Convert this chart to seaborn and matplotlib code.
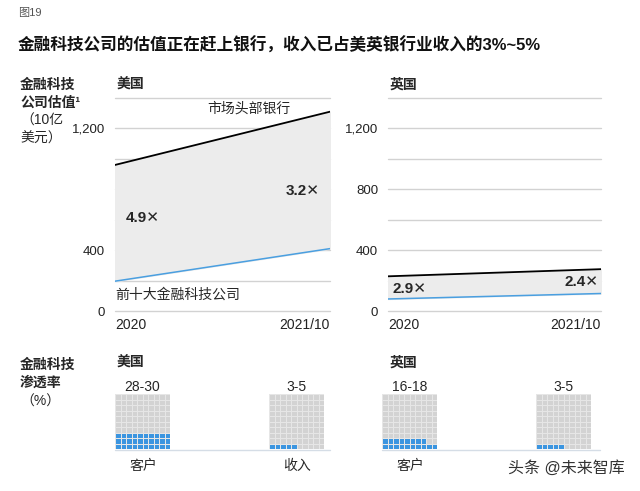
import numpy as np
import pandas as pd
import seaborn as sns
import matplotlib.pyplot as plt
from matplotlib.colors import ListedColormap
from matplotlib.lines import Line2D

sns.set_theme(style="white")
plt.rcParams['font.family'] = ['Liberation Sans', 'Noto Sans CJK SC', 'DejaVu Sans']

# valuation data (billion USD)
periods = ["2020", "2021/10"]
us_banks = [960, 1310]
us_fintech = [196, 410]
uk_banks = [228, 275]
uk_fintech = [79, 115]
us_ratio = ["4.9✕", "3.2✕"]
uk_ratio = ["2.9✕", "2.4✕"]
us_yticks = [0, 400, 1200]
uk_yticks = [0, 400, 800, 1200]
grid_vals = list(range(0, 1401, 200))

# penetration data (%) - cells of 100
waffle_labels = ["28-30", "3-5", "16-18", "3-5"]
waffle_cells = [30, 5, 18, 5]
waffle_names = ["客户", "收入", "客户", None]

W, H = 640, 491
fig = plt.figure(figsize=(W / 100, H / 100), dpi=100)


def px_axes(x, y_top, w, h):
    return fig.add_axes([x / W, 1 - (y_top + h) / H, w / W, h / H])


def ftext(x, y, s, **kw):
    fig.text(x / W, 1 - y / H, s, va="center", **kw)


GRID = "#d2d2d2"
FILL = "#ececec"
BLUE = "#4a9fe0"

ftext(18, 13, "图19", fontsize=8, color="#555555")
ftext(18, 45, "金融科技公司的估值正在赶上银行，收入已占美英银行业收入的3%~5%",
      fontsize=12, fontweight="bold", color="#111111")

ftext(20, 85, "金融科技", fontsize=10, fontweight="bold")
ftext(20, 103, "公司估值¹", fontsize=10, fontweight="bold")
ftext(20, 121, "（10亿", fontsize=10)
ftext(20, 139, "美元）", fontsize=10)


def value_panel(x, w, banks, fintech, ratios, yticks, title, ratio_pos):
    ax = px_axes(x, 98, w, 213)
    df = pd.DataFrame({"x": [0, 1], "banks": banks, "fintech": fintech})
    for g in grid_vals:
        ax.axhline(g, color=GRID, lw=1, zorder=0, clip_on=False)
    ax.fill_between(df["x"], df["fintech"], df["banks"], color=FILL, zorder=1)
    sns.lineplot(data=df, x="x", y="banks", ax=ax, color="black", lw=1.3, zorder=3)
    sns.lineplot(data=df, x="x", y="fintech", ax=ax, color=BLUE, lw=1.1, zorder=3)
    ax.set_xlim(0, 1)
    ax.set_ylim(0, 1400)
    ax.set_yticks(yticks, labels=[f"{v:,}" for v in yticks])
    ax.set_xticks([0, 1], labels=periods)
    for lab, ha in zip(ax.get_xticklabels(), ["left", "right"]):
        lab.set_ha(ha)
    ax.tick_params(axis="y", length=0, pad=7, labelsize=9.5, labelcolor="#222222")
    ax.tick_params(axis="x", length=0, pad=5, labelsize=10, labelcolor="#222222")
    ax.set_xlabel("")
    ax.set_ylabel("")
    sns.despine(ax=ax, left=True, bottom=True)
    for (px, py, ha), r in zip(ratio_pos, ratios):
        ax.text(px, py, r, fontsize=11, fontweight="bold", ha=ha, va="center", zorder=4,
                family=["Liberation Sans", "DejaVu Sans"])
    ftext(x + 2, 85, title, fontsize=10, fontweight="bold")
    return ax


ax_us = value_panel(115, 215, us_banks, us_fintech, us_ratio, us_yticks, "美国",
                    [(0.05, 610, "left"), (0.95, 790, "right")])
ax_us.text(0.43, 1330, "市场头部银行", fontsize=10, ha="left", va="center")
ax_us.text(0.0, 105, "前十大金融科技公司", fontsize=10, ha="left", va="center")

ax_uk = value_panel(388, 213, uk_banks, uk_fintech, uk_ratio, uk_yticks, "英国",
                    [(0.02, 145, "left"), (0.99, 192, "right")])

# penetration waffles
ftext(20, 365, "金融科技", fontsize=10, fontweight="bold")
ftext(20, 383, "渗透率", fontsize=10, fontweight="bold")
ftext(20, 402, "（%）", fontsize=10)
ftext(117, 363, "美国", fontsize=10, fontweight="bold")
ftext(390, 363, "英国", fontsize=10, fontweight="bold")

waffle_x = [115, 269, 382, 536]
cmap = ListedColormap(["#d3d3d3", "#3b95e0"])
for xw, n, lab, name in zip(waffle_x, waffle_cells, waffle_labels, waffle_names):
    ax = px_axes(xw, 394, 55, 55)
    k = np.arange(100)
    grid = (k < n).astype(int)
    mat = np.zeros((10, 10), dtype=int)
    mat[9 - k // 10, k % 10] = grid
    sns.heatmap(mat, ax=ax, cmap=cmap, vmin=0, vmax=1, cbar=False,
                linewidths=0.5, linecolor="#e6e6e6", square=False)
    ax.set_xticks([])
    ax.set_yticks([])
    ftext(xw + 27.5, 387, lab, fontsize=10, ha="center")
    if name:
        ftext(xw + 28, 466, name, fontsize=10, ha="center")

for x0, x1 in [(115, 330), (382, 600)]:
    fig.add_artist(Line2D([x0 / W, x1 / W], [1 - 449.5 / H] * 2, color="#d5dde6", lw=1))

ftext(508, 468, "头条 @未来智库", fontsize=11.5, color="#333333")

fig.savefig("out.png", dpi=100)
